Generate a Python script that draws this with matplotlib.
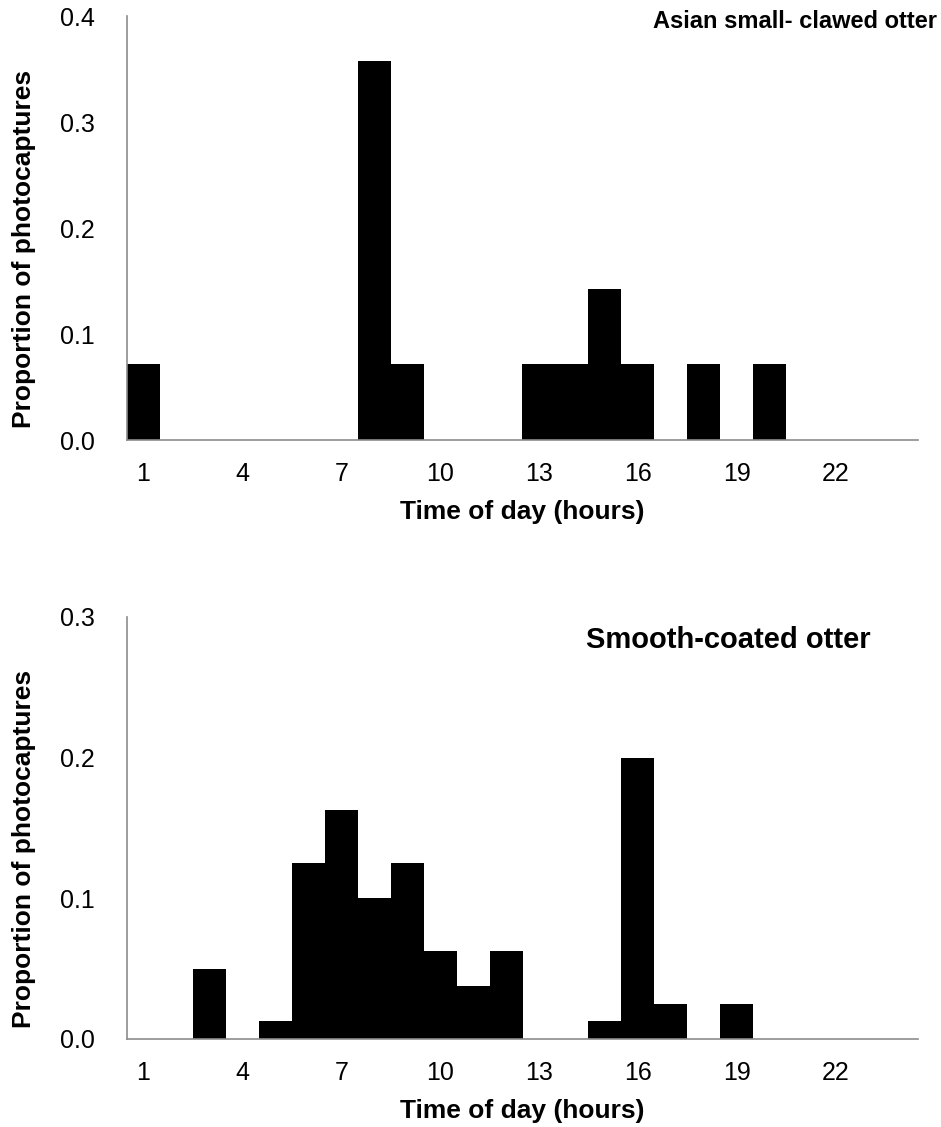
import matplotlib
matplotlib.use("Agg")
import matplotlib.pyplot as plt
import numpy as np

plt.rcParams['font.family'] = ['Liberation Sans', 'DejaVu Sans']

hours = list(range(1, 25))
tick_hours = [1, 4, 7, 10, 13, 16, 19, 22]

asian_props = [0.0714, 0, 0, 0, 0, 0, 0, 0.3571, 0.0714, 0, 0, 0,
               0.0714, 0.0714, 0.1429, 0.0714, 0, 0.0714, 0, 0.0714, 0, 0, 0, 0]
smooth_props = [0, 0, 0.05, 0, 0.0125, 0.125, 0.1625, 0.1, 0.125, 0.0625, 0.0375, 0.0625,
                0, 0, 0.0125, 0.2, 0.025, 0, 0.025, 0, 0, 0, 0, 0]

W, H = 941, 1127
fig = plt.figure(figsize=(W / 100, H / 100), dpi=100)

def px_axes(left, right, top, bottom):
    return fig.add_axes([left / W, 1 - bottom / H, (right - left) / W, (bottom - top) / H])

ax1 = px_axes(127, 918, 16, 440)
ax2 = px_axes(127, 918, 617, 1039)

axis_color = '#8c8c8c'

def style(ax, vals, ymax, yticks):
    x = np.arange(len(hours))
    ax.bar(x, vals, width=1.0, color='black', edgecolor='black', linewidth=0)
    ax.set_xlim(-0.5, len(hours) - 0.5)
    ax.set_ylim(0, ymax)
    ax.set_xticks([hours.index(h) for h in tick_hours])
    ax.set_xticklabels([str(h) for h in tick_hours], fontsize=18)
    ax.set_yticks(yticks)
    ax.set_yticklabels([f"{v:.1f}" for v in yticks], fontsize=18)
    ax.tick_params(axis='both', length=0)
    ax.tick_params(axis='x', pad=16)
    ax.tick_params(axis='y', pad=23)
    for s in ['top', 'right']:
        ax.spines[s].set_visible(False)
    for s in ['left', 'bottom']:
        ax.spines[s].set_color(axis_color)
        ax.spines[s].set_linewidth(1.2)
    ax.set_xlabel('Time of day (hours)', fontsize=19, fontweight='bold', labelpad=10)
    ax.set_ylabel('Proportion of photocaptures', fontsize=19, fontweight='bold')
    ax.yaxis.set_label_coords(-0.115, 0.45)

style(ax1, asian_props, 0.4, [0.0, 0.1, 0.2, 0.3, 0.4])
style(ax2, smooth_props, 0.3, [0.0, 0.1, 0.2, 0.3])

fig.text(937 / W, 1 - 21 / H, 'Asian small- clawed otter', ha='right', va='center',
         fontsize=17, fontweight='bold')
fig.text(728 / W, 1 - 640 / H, 'Smooth-coated otter', ha='center', va='center',
         fontsize=21, fontweight='bold')

fig.savefig('out.png', dpi=100)
